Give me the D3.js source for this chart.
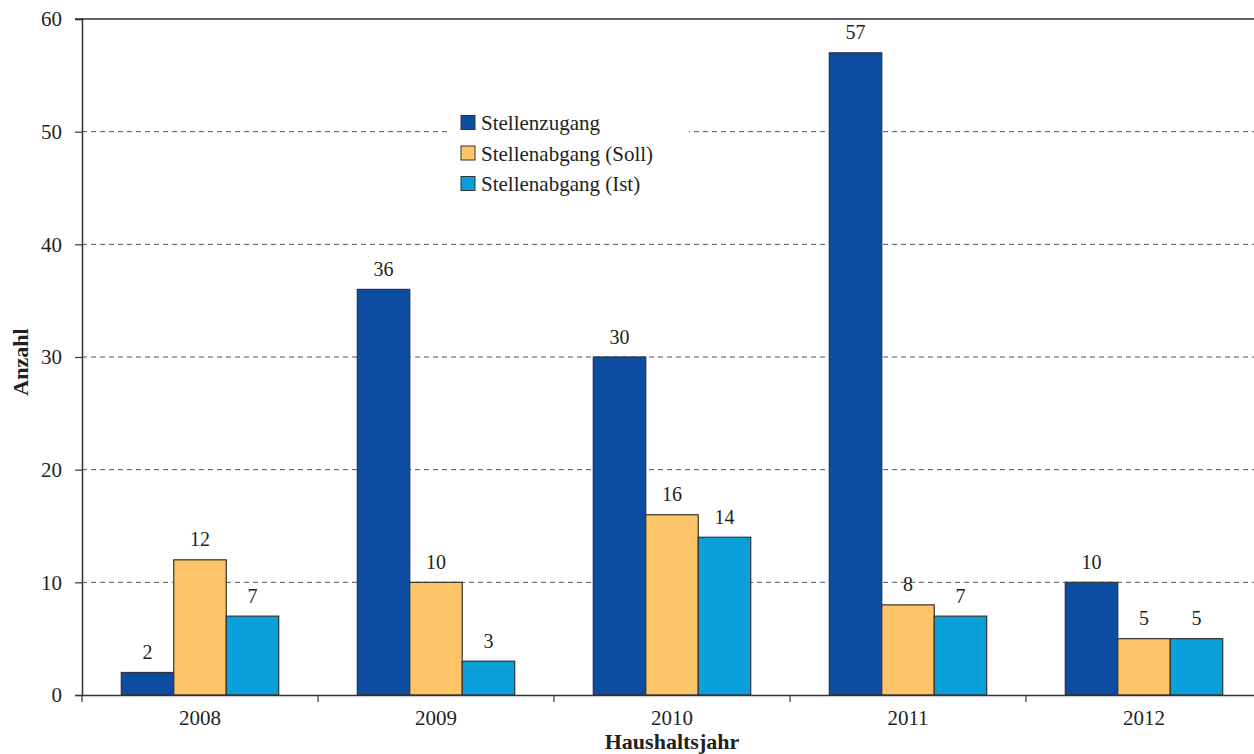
<!DOCTYPE html>
<html>
<head>
<meta charset="utf-8">
<script src="https://cdn.jsdelivr.net/npm/d3@7"></script>
<style>
  html, body { margin: 0; padding: 0; background: #fff; }
  svg { display: block; }
  svg text { font-family: "Liberation Serif", serif; }
</style>
</head>
<body>
<svg id="chart" width="1254" height="754"></svg>
<script>
// Haushaltsjahre and staffing changes per year
const years = ["2008", "2009", "2010", "2011", "2012"];
const seriesNames = ["Stellenzugang", "Stellenabgang (Soll)", "Stellenabgang (Ist)"];
const stellenzugang = [2, 36, 30, 57, 10];
const stellenabgangSoll = [12, 10, 16, 8, 5];
const stellenabgangIst = [7, 3, 14, 7, 5];
const yTicks = [0, 10, 20, 30, 40, 50, 60];
const colors = ["#0c4ca1", "#fdc567", "#089fdb"];

const seriesValues = [stellenzugang, stellenabgangSoll, stellenabgangIst];
const FONT = "Liberation Serif";
const TEXT_COLOR = "#231f20";

const svg = d3.select("#chart");
const plotLeft = 82, plotRight = 1262, plotTop = 19, plotBottom = 695;

const x = d3.scaleBand().domain(years).range([plotLeft, plotRight]).padding(0);
const groupWidth = x.bandwidth() * 0.667;
const xInner = d3.scaleBand().domain(seriesNames).range([0, groupWidth]).padding(0);
const y = d3.scaleLinear().domain([0, 60]).range([plotBottom, plotTop]);

// dashed gridlines
svg.append("g")
  .selectAll("line")
  .data(yTicks.filter(t => t > 0 && t < 60))
  .join("line")
  .attr("x1", plotLeft).attr("x2", plotRight)
  .attr("y1", d => y(d)).attr("y2", d => y(d))
  .attr("stroke", "#555").attr("stroke-width", 1)
  .attr("stroke-dasharray", "5,4");

// top frame line
svg.append("line")
  .attr("x1", plotLeft - 7).attr("x2", plotRight)
  .attr("y1", y(60)).attr("y2", y(60))
  .attr("stroke", "#333").attr("stroke-width", 1.5);

// bars
const groups = svg.append("g")
  .selectAll("g")
  .data(years)
  .join("g")
  .attr("transform", d => `translate(${x(d) + (x.bandwidth() - groupWidth) / 2},0)`);

groups.selectAll("rect")
  .data((d, i) => seriesNames.map((s, j) => ({ s, j, v: seriesValues[j][i] })))
  .join("rect")
  .attr("x", d => xInner(d.s))
  .attr("width", xInner.bandwidth())
  .attr("y", d => y(d.v))
  .attr("height", d => y(0) - y(d.v))
  .attr("fill", d => colors[d.j])
  .attr("stroke", "#333").attr("stroke-width", 1.2);

groups.selectAll("text")
  .data((d, i) => seriesNames.map((s, j) => ({ s, j, v: seriesValues[j][i] })))
  .join("text")
  .attr("x", d => xInner(d.s) + xInner.bandwidth() / 2)
  .attr("y", d => y(d.v) - 13.5)
  .attr("text-anchor", "middle")
  .attr("font-family", FONT)
  .attr("font-size", 20)
  .attr("fill", TEXT_COLOR)
  .text(d => d.v);

// y axis
const yAxis = svg.append("g")
  .attr("transform", `translate(${plotLeft},0)`)
  .call(d3.axisLeft(y).tickValues(yTicks).tickSize(7).tickPadding(13));
yAxis.attr("font-family", FONT);
yAxis.select(".domain").attr("stroke", "#333").attr("stroke-width", 1.5);
yAxis.selectAll(".tick line").attr("stroke", "#333").attr("stroke-width", 1.2);
yAxis.selectAll(".tick text")
  .attr("font-family", FONT)
  .attr("font-size", 21).attr("fill", TEXT_COLOR);

// x axis
const xAxis = svg.append("g")
  .attr("transform", `translate(0,${plotBottom})`)
  .call(d3.axisBottom(x).tickSize(0).tickPadding(15));
xAxis.attr("font-family", FONT);
xAxis.select(".domain").attr("stroke", "#333").attr("stroke-width", 1.5);
xAxis.selectAll(".tick text")
  .attr("font-family", FONT)
  .attr("font-size", 21).attr("fill", TEXT_COLOR);
// category separators
svg.append("g")
  .selectAll("line")
  .data(years)
  .join("line")
  .attr("x1", d => x(d)).attr("x2", d => x(d))
  .attr("y1", plotBottom).attr("y2", plotBottom + 7)
  .attr("stroke", "#333").attr("stroke-width", 1.2);

// axis titles
svg.append("text")
  .attr("transform", `translate(28,${(plotTop + plotBottom) / 2 + 5}) rotate(-90)`)
  .attr("text-anchor", "middle")
  .attr("font-family", FONT)
  .attr("font-size", 22).attr("font-weight", "bold").attr("fill", TEXT_COLOR)
  .text("Anzahl");
svg.append("text")
  .attr("x", (plotLeft + plotRight) / 2).attr("y", 749)
  .attr("text-anchor", "middle")
  .attr("font-family", FONT)
  .attr("font-size", 22).attr("font-weight", "bold").attr("fill", TEXT_COLOR)
  .text("Haushaltsjahr");

// legend
const legend = svg.append("g").attr("transform", "translate(449,106)");
legend.append("rect")
  .attr("x", 0).attr("y", 0).attr("width", 240).attr("height", 92)
  .attr("fill", "#fff");
const items = legend.selectAll("g")
  .data(seriesNames)
  .join("g")
  .attr("transform", (d, i) => `translate(12,${9.5 + i * 30.5})`);
items.append("rect")
  .attr("width", 14).attr("height", 14)
  .attr("fill", (d, i) => colors[i])
  .attr("stroke", "#333").attr("stroke-width", 1);
items.append("text")
  .attr("x", 20).attr("y", 14.5)
  .attr("font-family", FONT)
  .attr("font-size", 21).attr("fill", TEXT_COLOR)
  .text(d => d);
</script>
</body>
</html>
